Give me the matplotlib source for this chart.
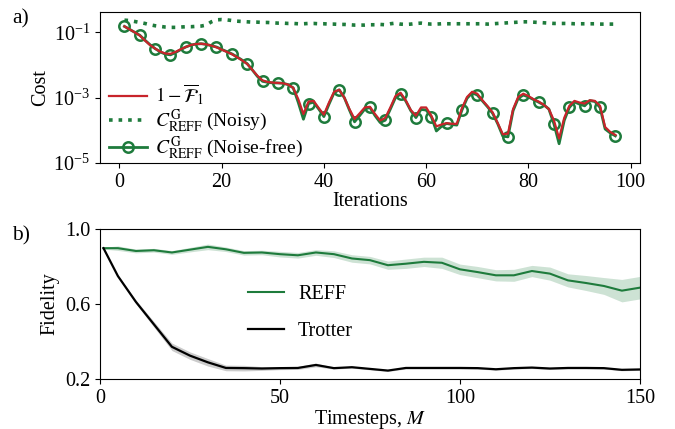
import numpy as np
import matplotlib
matplotlib.use("Agg")
import matplotlib.pyplot as plt
from matplotlib.ticker import FixedLocator, NullLocator, LogFormatterMathtext

plt.rcParams['font.family'] = ['Liberation Serif', 'DejaVu Serif']
plt.rcParams['mathtext.fontset'] = 'stix'
plt.rcParams['font.size'] = 14.5

# ---- panel a) data (log10 of cost), iterations 1..97
iters = list(range(1, 98))
noisefree_log = [-0.82, -0.91, -1.00, -1.09, -1.24, -1.38, -1.50, -1.60, -1.67, -1.69,
                 -1.62, -1.53, -1.45, -1.39, -1.36, -1.35, -1.37, -1.41, -1.45, -1.52,
                 -1.59, -1.66, -1.75, -1.85, -1.96, -2.15, -2.35, -2.50, -2.53, -2.55,
                 -2.55, -2.56, -2.60, -2.70, -3.15, -3.66, -3.18, -3.14, -3.35, -3.58,
                 -3.20, -2.85, -2.76, -3.00, -3.38, -3.74, -3.55, -3.35, -3.30, -3.55,
                 -3.76, -3.69, -3.35, -3.00, -2.89, -3.10, -3.40, -3.61, -3.36, -3.38,
                 -3.58, -4.02, -3.88, -3.79, -3.82, -3.84, -3.38, -3.02, -2.85, -2.92,
                 -3.10, -3.28, -3.48, -3.80, -4.18, -4.20, -3.40, -3.02, -2.92, -2.98,
                 -3.06, -3.14, -3.22, -3.35, -3.81, -4.41, -3.70, -3.30, -3.13, -3.20,
                 -3.25, -3.09, -3.12, -3.30, -3.96, -4.08, -4.17]
infid_log = [-0.82, -0.91, -1.00, -1.10, -1.25, -1.39, -1.50, -1.59, -1.65, -1.66,
             -1.60, -1.52, -1.45, -1.39, -1.36, -1.35, -1.37, -1.41, -1.46, -1.53,
             -1.60, -1.67, -1.76, -1.86, -1.97, -2.15, -2.33, -2.47, -2.52, -2.54,
             -2.55, -2.56, -2.60, -2.70, -3.05, -3.50, -3.12, -3.10, -3.32, -3.52,
             -3.15, -2.82, -2.76, -3.00, -3.35, -3.65, -3.48, -3.30, -3.28, -3.50,
             -3.70, -3.62, -3.30, -2.95, -2.85, -3.08, -3.38, -3.55, -3.30, -3.30,
             -3.55, -3.88, -3.82, -3.78, -3.80, -3.80, -3.32, -2.98, -2.82, -2.88,
             -3.08, -3.26, -3.45, -3.78, -4.12, -4.10, -3.35, -2.98, -2.88, -2.95,
             -3.05, -3.12, -3.22, -3.35, -3.70, -4.25, -3.62, -3.25, -3.10, -3.15,
             -3.18, -3.08, -3.10, -3.25, -3.90, -4.05, -4.14]
noisy_log = [-0.63, -0.64, -0.67, -0.70, -0.73, -0.77, -0.80, -0.82, -0.84, -0.85,
             -0.85, -0.84, -0.83, -0.83, -0.82, -0.81, -0.78, -0.68, -0.62, -0.61,
             -0.62, -0.64, -0.66, -0.67, -0.68, -0.69, -0.69, -0.70, -0.70, -0.71,
             -0.72, -0.72, -0.73, -0.73, -0.74, -0.74, -0.73, -0.73, -0.74, -0.74,
             -0.75, -0.75, -0.76, -0.76, -0.77, -0.78, -0.78, -0.78, -0.77, -0.77,
             -0.76, -0.77, -0.74, -0.72, -0.75, -0.76, -0.75, -0.73, -0.72, -0.74,
             -0.75, -0.75, -0.74, -0.74, -0.74, -0.74, -0.74, -0.74, -0.74, -0.74,
             -0.74, -0.75, -0.74, -0.73, -0.72, -0.71, -0.70, -0.69, -0.68, -0.68,
             -0.69, -0.70, -0.71, -0.72, -0.73, -0.73, -0.73, -0.73, -0.74, -0.74,
             -0.74, -0.74, -0.74, -0.75, -0.75, -0.75, -0.75]

# ---- panel b) data
steps = [1, 5, 10, 15, 20, 25, 30, 35, 40, 45, 50, 55, 60, 65, 70, 75, 80, 85, 90, 95,
         100, 105, 110, 115, 120, 125, 130, 135, 140, 145, 150]
reff = [0.898, 0.898, 0.883, 0.887, 0.875, 0.890, 0.905, 0.892, 0.873, 0.875, 0.866,
        0.860, 0.875, 0.866, 0.843, 0.834, 0.807, 0.815, 0.825, 0.820, 0.785, 0.770,
        0.753, 0.753, 0.776, 0.762, 0.726, 0.712, 0.696, 0.671, 0.687]
reff_err = [0.005, 0.012, 0.010, 0.010, 0.010, 0.012, 0.015, 0.012, 0.012, 0.012, 0.015,
            0.015, 0.015, 0.018, 0.020, 0.020, 0.022, 0.025, 0.025, 0.030, 0.028, 0.030,
            0.030, 0.032, 0.030, 0.035, 0.035, 0.040, 0.045, 0.060, 0.060]
trotter = [0.898, 0.749, 0.611, 0.491, 0.371, 0.324, 0.288, 0.258, 0.257, 0.255, 0.257,
           0.258, 0.274, 0.257, 0.262, 0.253, 0.244, 0.258, 0.258, 0.258, 0.258, 0.257,
           0.251, 0.257, 0.260, 0.255, 0.258, 0.258, 0.257, 0.248, 0.250]
trotter_err = [0.0, 0.005, 0.010, 0.015, 0.020, 0.020, 0.020, 0.015, 0.015, 0.010, 0.008,
               0.008, 0.010, 0.005, 0.005, 0.005, 0.005, 0.005, 0.005, 0.005, 0.005,
               0.005, 0.005, 0.005, 0.005, 0.005, 0.005, 0.005, 0.005, 0.005, 0.005]

green = '#1e7b3c'
red = '#c8242b'

fig = plt.figure(figsize=(6.75, 4.29), dpi=100)
ax1 = fig.add_axes([0.148, 0.620, 0.800, 0.352])
ax2 = fig.add_axes([0.148, 0.117, 0.800, 0.349])

it = np.array(iters)
nf = 10 ** np.array(noisefree_log)
inf = 10 ** np.array(infid_log)
noisy = 10 ** np.array(noisy_log)

l_noisy, = ax1.plot(it, noisy, ':', color=green, lw=2.6)
l_nf, = ax1.plot(it, nf, '-', color=green, lw=2.0, marker='o', markevery=3,
                 markersize=7.5, markerfacecolor='none', markeredgewidth=1.8)
l_inf, = ax1.plot(it, inf, '-', color=red, lw=1.6)
ax1.set_yscale('log')
ax1.set_ylim(1e-5, 10 ** -0.38)
ax1.yaxis.set_major_locator(FixedLocator([1e-5, 1e-3, 1e-1]))
ax1.yaxis.set_major_formatter(LogFormatterMathtext())
ax1.yaxis.set_minor_locator(NullLocator())
ax1.set_xticks([0, 20, 40, 60, 80, 100])
ax1.set_xlabel('Iterations', labelpad=0)
ax1.set_ylabel('Cost', labelpad=2)
ax1.legend([l_inf, l_noisy, l_nf],
           [r'$1-\overline{\mathcal{F}}_1$',
            r'$C^{\mathrm{G}}_{\mathrm{REFF}}$ (Noisy)',
            r'$C^{\mathrm{G}}_{\mathrm{REFF}}$ (Noise-free)'],
           loc='lower left', bbox_to_anchor=(-0.015, -0.11), frameon=False,
           handlelength=1.95, handletextpad=0.4, labelspacing=0.0, fontsize=14)

st = np.array(steps)
r = np.array(reff)
re = np.array(reff_err)
t = np.array(trotter)
te = np.array(trotter_err)
ax2.fill_between(st, r - re, r + re, color=green, alpha=0.22, lw=0)
ax2.fill_between(st, t - te, t + te, color='black', alpha=0.2, lw=0)
ax2.plot(st, r, color=green, lw=1.5, label='REFF')
ax2.plot(st, t, color='black', lw=1.6, label='Trotter')
ax2.set_xlim(0, 150)
ax2.set_ylim(0.2, 1.0)
ax2.set_yticks([0.2, 0.6, 1.0])
ax2.set_xticks([0, 50, 100, 150])
ax2.set_xlabel('Timesteps, $M$', labelpad=0)
ax2.set_ylabel('Fidelity', labelpad=4)
ax2.legend(loc='center left', bbox_to_anchor=(0.24, 0.44), frameon=False,
           handlelength=1.8, handletextpad=0.7, labelspacing=0.85, fontsize=14.5)

fig.text(0.018, 0.945, 'a)', fontsize=15.5)
fig.text(0.018, 0.44, 'b)', fontsize=15.5)

fig.savefig('out.png', dpi=100)
